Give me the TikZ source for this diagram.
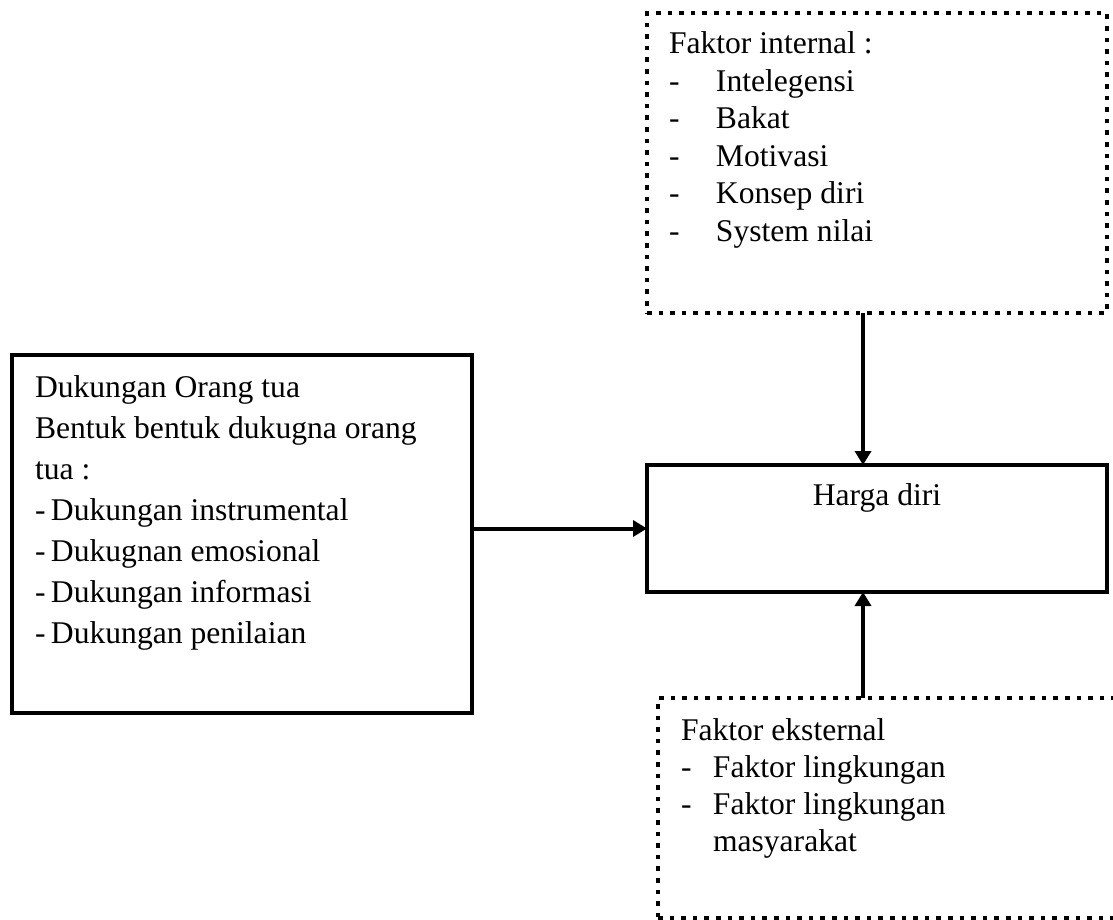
\documentclass[tikz,border=0pt]{standalone}
\usepackage{fontspec}
\setmainfont{Liberation Serif}
\usetikzlibrary{arrows.meta}

\tikzset{
  kotak/.style={draw, line width=2pt, inner sep=0pt, outer sep=0pt},
  kotaktitik/.style={draw, line width=2.2pt, dash pattern=on 2.3pt off 3.5pt, inner sep=0pt, outer sep=0pt},
  panah/.style={line width=2pt, -{Triangle[length=7pt,width=8pt]}},
  isi/.style={inner sep=0pt, outer sep=0pt, anchor=north west, align=left},
}

\begin{document}
\begin{tikzpicture}[x=0.5pt, y=-0.5pt]
    \useasboundingbox (0,0) rectangle (1113,920);
    % Faktor internal
    \node[kotaktitik, minimum width=230pt, minimum height=150pt] (internal) at (877,163) {};
    \node[isi, font=\fontsize{15.8}{18.75}\selectfont] (teksinternal) at (669,32)
        {Faktor internal :\\
         \makebox[23.5pt][l]{-}Intelegensi\\
         \makebox[23.5pt][l]{-}Bakat\\
         \makebox[23.5pt][l]{-}Motivasi\\
         \makebox[23.5pt][l]{-}Konsep diri\\
         \makebox[23.5pt][l]{-}System nilai};
    % Dukungan orang tua
    \node[kotak, minimum width=230pt, minimum height=179pt] (dukungan) at (242,534) {};
    \node[isi, font=\fontsize{15.8}{20.5}\selectfont] (teksdukungan) at (35,376)
        {Dukungan Orang tua\\
         Bentuk bentuk dukugna orang\\
         tua :\\
         \makebox[8pt][l]{-}Dukungan instrumental\\
         \makebox[8pt][l]{-}Dukugnan emosional\\
         \makebox[8pt][l]{-}Dukungan informasi\\
         \makebox[8pt][l]{-}Dukungan penilaian};
    % Harga diri
    \node[kotak, minimum width=230pt, minimum height=63.5pt] (harga) at (877,528.5) {};
    \node[inner sep=0pt, anchor=base, font=\fontsize{15.8}{18.75}\selectfont] (teksharga) at (877,505) {Harga diri};
    % Faktor eksternal
    \node[kotaktitik, minimum width=233.5pt, minimum height=110pt] (eksternal) at (891.5,808) {};
    \node[isi, font=\fontsize{15.8}{18.35}\selectfont] (teksseksternal) at (681,719)
        {Faktor eksternal\\
         \makebox[16pt][l]{-}Faktor lingkungan\\
         \makebox[16pt][l]{-}Faktor lingkungan\\
         \hspace*{16pt}masyarakat};
    % panah
    \coordinate (lajur) at (863,0);
    \draw[panah] (internal.south -| lajur) -- (harga.north -| lajur);
    \draw[panah] (eksternal.north -| lajur) -- (harga.south -| lajur);
    \draw[panah] (dukungan.east |- harga.west) -- (harga.west);
\end{tikzpicture}
\end{document}
